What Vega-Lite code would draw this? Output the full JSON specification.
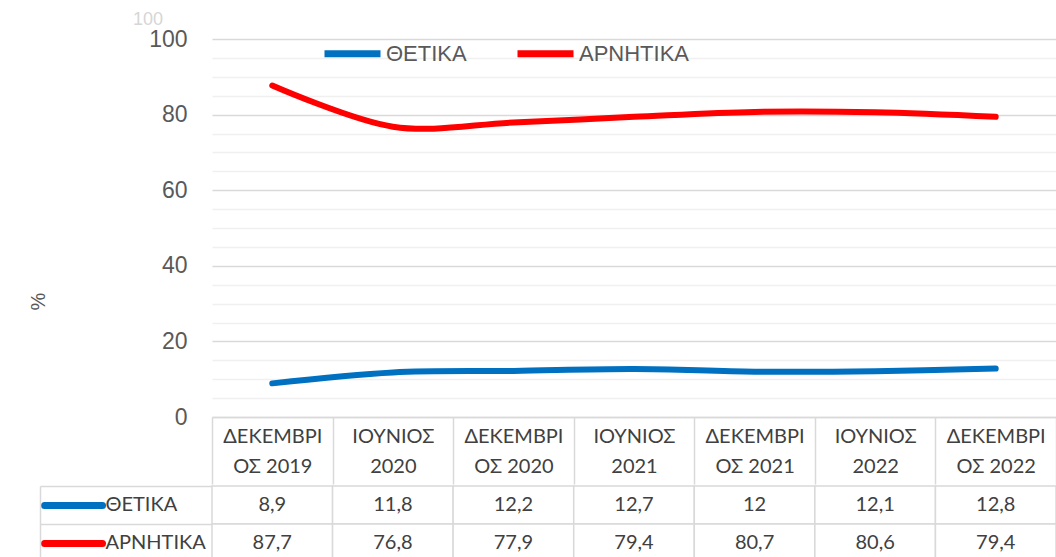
{
  "$schema": "https://vega.github.io/schema/vega-lite/v6.json",
  "padding": {"left": 28, "top": 11, "right": 0, "bottom": 0},
  "background": "white",
  "spacing": 0,
  "config": {
    "view": {"stroke": null},
    "locale": {"number": {"decimal": ",", "thousands": ".", "grouping": [3], "currency": ["", " €"]}}
  },
  "datasets": {
    "rows": [
      {"period": "ΔΕΚΕΜΒΡΙΟΣ 2019", "series": "ΘΕΤΙΚΑ", "value": 8.9},
      {"period": "ΙΟΥΝΙΟΣ 2020", "series": "ΘΕΤΙΚΑ", "value": 11.8},
      {"period": "ΔΕΚΕΜΒΡΙΟΣ 2020", "series": "ΘΕΤΙΚΑ", "value": 12.2},
      {"period": "ΙΟΥΝΙΟΣ 2021", "series": "ΘΕΤΙΚΑ", "value": 12.7},
      {"period": "ΔΕΚΕΜΒΡΙΟΣ 2021", "series": "ΘΕΤΙΚΑ", "value": 12},
      {"period": "ΙΟΥΝΙΟΣ 2022", "series": "ΘΕΤΙΚΑ", "value": 12.1},
      {"period": "ΔΕΚΕΜΒΡΙΟΣ 2022", "series": "ΘΕΤΙΚΑ", "value": 12.8},
      {"period": "ΔΕΚΕΜΒΡΙΟΣ 2019", "series": "ΑΡΝΗΤΙΚΑ", "value": 87.7},
      {"period": "ΙΟΥΝΙΟΣ 2020", "series": "ΑΡΝΗΤΙΚΑ", "value": 76.8},
      {"period": "ΔΕΚΕΜΒΡΙΟΣ 2020", "series": "ΑΡΝΗΤΙΚΑ", "value": 77.9},
      {"period": "ΙΟΥΝΙΟΣ 2021", "series": "ΑΡΝΗΤΙΚΑ", "value": 79.4},
      {"period": "ΔΕΚΕΜΒΡΙΟΣ 2021", "series": "ΑΡΝΗΤΙΚΑ", "value": 80.7},
      {"period": "ΙΟΥΝΙΟΣ 2022", "series": "ΑΡΝΗΤΙΚΑ", "value": 80.6},
      {"period": "ΔΕΚΕΜΒΡΙΟΣ 2022", "series": "ΑΡΝΗΤΙΚΑ", "value": 79.4}
    ]
  },
  "vconcat": [
    {
      "width": 844,
      "height": 378,
      "title": {"text": "100", "anchor": "start", "frame": "group", "dx": -79, "fontSize": 18, "fontWeight": "normal", "color": "#d6d6d6", "font": "Liberation Sans", "offset": -1},
      "data": {"name": "rows"},
      "mark": {"type": "line", "strokeWidth": 6, "strokeCap": "round", "interpolate": "cardinal"},
      "encoding": {
        "x": {
          "field": "period", "type": "nominal", "sort": null, "bandPosition": 0.5,
          "scale": {"type": "band", "paddingInner": 0, "paddingOuter": 0},
          "axis": {
            "title": null, "tickBand": "extent", "ticks": true, "tickSize": 67, "tickColor": "#d9d9d9", "tickWidth": 1.5,
            "domainColor": "#d9d9d9", "domainWidth": 1.5, "grid": false,
            "labelAngle": 0, "labelFont": "Lato", "labelFontSize": 20, "labelColor": "#404040",
            "labelBaseline": "top", "labelPadding": -58, "labelLineHeight": 30,
            "labelExpr": "indexof(datum.label,'ΔΕΚ')===0 ? [slice(datum.label,0,8), slice(datum.label,8)] : split(datum.label,' ')"
          }
        },
        "y": {
          "field": "value", "type": "quantitative",
          "scale": {"domain": [0, 100], "nice": false},
          "axis": {
            "values": [0,5,10,15,20,25,30,35,40,45,50,55,60,65,70,75,80,85,90,95,100],
            "labelExpr": "datum.value % 20 === 0 ? datum.label : ''",
            "gridColor": {"condition": {"test": "datum.value % 20 === 0", "value": "#d9d9d9"}, "value": "#f0f0f0"},
            "gridWidth": 1.5,
            "domain": false, "ticks": false,
            "labelFont": "Liberation Sans", "labelFontSize": 23, "labelColor": "#595959", "labelPadding": 25,
            "title": "%", "titleFont": "Liberation Sans", "titleFontSize": 20, "titleFontWeight": "normal", "titleColor": "#595959",
            "titleX": -174, "titleY": 262, "titleAlign": "center", "titleBaseline": "middle", "titleAngle": -90
          }
        },
        "color": {
          "field": "series", "type": "nominal",
          "scale": {"domain": ["ΘΕΤΙΚΑ", "ΑΡΝΗΤΙΚΑ"], "range": ["#0070C0", "#FF0000"]},
          "legend": {
            "title": null, "orient": "none", "direction": "horizontal", "legendX": 109, "legendY": -17,
            "symbolType": "stroke", "symbolStrokeWidth": 7, "symbolSize": 3136, "symbolStrokeColor": null,
            "labelFont": "Liberation Sans", "labelFontSize": 22, "labelColor": "#595959", "labelOffset": 2,
            "columnPadding": 36, "padding": 0
          }
        }
      }
    },
    {
      "width": 844,
      "height": 76,
      "data": {"name": "rows"},
      "resolve": {"axis": {"y": "independent"}},
      "layer": [
        {
          "mark": {"type": "rect", "fill": "white", "stroke": "#d9d9d9", "strokeWidth": 1.5},
          "encoding": {
            "x": {"field": "period", "type": "nominal", "sort": null, "scale": {"type": "band", "paddingInner": 0, "paddingOuter": 0}, "axis": null},
            "y": {
              "field": "series", "type": "nominal", "sort": ["ΘΕΤΙΚΑ", "ΑΡΝΗΤΙΚΑ"],
              "scale": {"type": "band", "paddingInner": 0, "paddingOuter": 0},
              "axis": {"orient": "left", "title": null, "offset": 172, "domain": true, "domainColor": "#d9d9d9", "domainWidth": 1.5, "ticks": false, "grid": false,
                "labelAlign": "left", "labelPadding": -65, "labelFont": "Lato", "labelFontSize": 20, "labelColor": "#404040"}
            }
          }
        },
        {
          "mark": {"type": "text", "font": "Lato", "fontSize": 20, "color": "#404040"},
          "encoding": {
            "x": {"field": "period", "type": "nominal", "sort": null, "bandPosition": 0.5},
            "y": {
              "field": "series", "type": "nominal", "sort": ["ΘΕΤΙΚΑ", "ΑΡΝΗΤΙΚΑ"], "bandPosition": 0.5,
              "axis": {"orient": "left", "title": null, "offset": 110, "domain": false, "labels": false, "grid": false,
                "ticks": true, "tickSize": 58, "tickWidth": 7, "tickCap": "round",
                "tickColor": {"condition": {"test": "datum.value === 'ΘΕΤΙΚΑ'", "value": "#0070C0"}, "value": "#FF0000"}}
            },
            "text": {"field": "value", "type": "quantitative", "format": "~g"}
          }
        },
        {
          "mark": {"type": "text", "opacity": 0},
          "encoding": {
            "y": {
              "field": "series", "type": "nominal", "sort": ["ΘΕΤΙΚΑ", "ΑΡΝΗΤΙΚΑ"],
              "axis": {"orient": "left", "title": null, "offset": 0, "domain": false, "labels": false, "grid": false,
                "ticks": true, "tickBand": "extent", "tickSize": 172, "tickWidth": 1.5, "tickColor": "#d9d9d9"}
            },
            "text": {"value": ""}
          }
        }
      ]
    }
  ]
}
